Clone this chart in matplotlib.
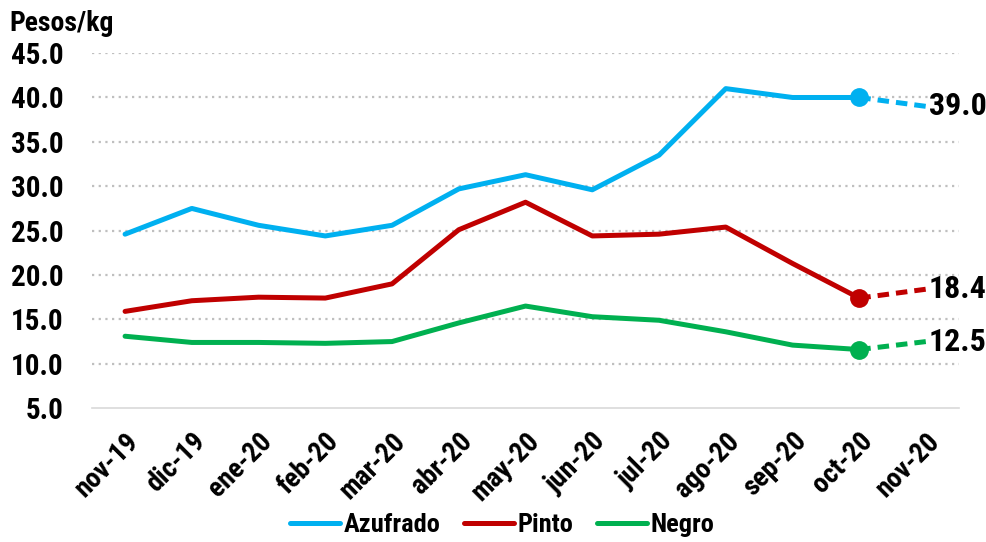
import matplotlib

matplotlib.use("Agg")
import matplotlib.pyplot as plt
from matplotlib import font_manager

# pick a condensed bold face if one is installed
names = {f.name for f in font_manager.fontManager.ttflist}
family = ["DejaVu Sans"]
for cand in ["Liberation Sans Narrow", "Arial Narrow", "Roboto Condensed", "Open Sans Condensed"]:
    if cand in names:
        family = [cand, "DejaVu Sans"]
        break
plt.rcParams["font.family"] = family
plt.rcParams["font.weight"] = "bold"
plt.rcParams["font.stretch"] = "condensed"

months = ["nov-19", "dic-19", "ene-20", "feb-20", "mar-20", "abr-20", "may-20",
          "jun-20", "jul-20", "ago-20", "sep-20", "oct-20", "nov-20"]
azufrado = [24.6, 27.5, 25.6, 24.4, 25.6, 29.7, 31.3, 29.6, 33.5, 41.0, 40.0, 40.0]
pinto = [15.9, 17.1, 17.5, 17.4, 19.0, 25.1, 28.2, 24.4, 24.6, 25.4, 21.3, 17.4]
negro = [13.1, 12.4, 12.4, 12.3, 12.5, 14.6, 16.5, 15.3, 14.9, 13.6, 12.1, 11.6]
forecast = {"Azufrado": 39.0, "Pinto": 18.4, "Negro": 12.5}
yticks = [5, 10, 15, 20, 25, 30, 35, 40, 45]

colors = {"Azufrado": "#00B0F0", "Pinto": "#C00000", "Negro": "#00B050"}
series = {"Azufrado": azufrado, "Pinto": pinto, "Negro": negro}

fig = plt.figure(figsize=(9.86, 5.42), dpi=100)
ax = fig.add_axes([0.093, 0.247, 0.88, 0.655])

for name, vals in series.items():
    c = colors[name]
    x = list(range(len(vals)))
    ax.plot(x, vals, color=c, linewidth=3.6, label=name, solid_capstyle="round", zorder=3)
    last = len(vals) - 1
    ax.plot([last, last + 1], [vals[-1], forecast[name]], color=c, linewidth=3.6,
            linestyle=(0, (2.3, 1.4)), zorder=3)
    ax.plot([last], [vals[-1]], marker="o", markersize=12.5, color=c, zorder=4, clip_on=False)
    ax.text(last + 1.04, forecast[name], f"{forecast[name]:.1f}", fontsize=23,
            fontweight="bold", va="center", ha="left", zorder=5)

ax.set_xlim(-0.5, len(months) - 0.5)
ax.set_ylim(5, 45)
ax.set_yticks(yticks)
ax.set_yticklabels([f"{v:.1f}" for v in yticks], fontsize=21, fontweight="bold")
ax.set_xticks(range(len(months)))
ax.set_xticklabels(months, rotation=45, ha="right", rotation_mode="anchor",
                   fontsize=20, fontweight="bold")
ax.tick_params(length=0)
ax.tick_params(axis="y", pad=20)
ax.tick_params(axis="x", pad=14)

for v in yticks[1:]:
    ax.axhline(v, color="#BFBFBF", linewidth=1.6, linestyle=(0, (1, 2)), zorder=1)
for s in ["top", "right", "left"]:
    ax.spines[s].set_visible(False)
ax.spines["bottom"].set_color("#D9D9D9")
ax.spines["bottom"].set_linewidth(1.2)

fig.text(0.01, 0.956, "Pesos/kg", fontsize=20, fontweight="bold", va="center", ha="left")

ax.legend(loc="center", bbox_to_anchor=(0.473, -0.33), ncol=3, frameon=False,
          fontsize=19, handlelength=1.9, handletextpad=0.12, columnspacing=0.9,
          borderpad=0.1)

fig.savefig("out.png", dpi=100)
